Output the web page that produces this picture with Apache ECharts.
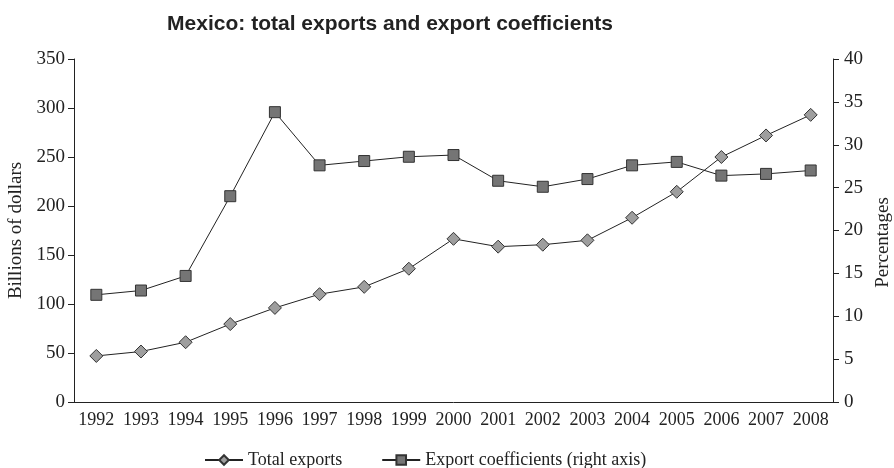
<!DOCTYPE html>
<html>
<head>
<meta charset="utf-8">
<script src="https://cdn.jsdelivr.net/npm/echarts@6/dist/echarts.min.js"></script>
<style>
  html, body { margin: 0; padding: 0; background: #fff; }
  #chart { width: 894px; height: 468px; }
</style>
</head>
<body>
<div id="chart"></div>
<script>
const years = ['1992', '1993', '1994', '1995', '1996', '1997', '1998', '1999', '2000',
  '2001', '2002', '2003', '2004', '2005', '2006', '2007', '2008'];
const totalExports = [47, 51.5, 61, 79.5, 96, 110, 117.5, 136, 166.5,
  158.5, 160.5, 165, 188, 214.5, 250, 272, 293];
const exportCoefficients = [12.5, 13, 14.7, 24, 33.8, 27.6, 28.1, 28.6, 28.8,
  25.8, 25.1, 26, 27.6, 28, 26.4, 26.6, 27];
const leftTicks = { min: 0, max: 350, interval: 50 };
const rightTicks = { min: 0, max: 40, interval: 5 };

const serif = '"Liberation Serif", "DejaVu Serif", serif';
const axisText = { color: '#222', fontFamily: serif, fontSize: 19 };

const chart = echarts.init(document.getElementById('chart'));
chart.setOption({
  animation: false,
  title: {
    text: 'Mexico: total exports and export coefficients',
    left: 385,
    textAlign: 'center',
    top: 9,
    textStyle: { fontFamily: '"Liberation Sans", Arial, sans-serif', fontWeight: 'bold', fontSize: 21, color: '#222' }
  },
  legend: {
    top: 451,
    left: 204,
    itemGap: 39,
    itemWidth: 38,
    itemHeight: 12,
    padding: 0,
    textStyle: { fontFamily: serif, fontSize: 18, color: '#222' },
    data: ['Total exports', 'Export coefficients (right axis)']
  },
  grid: { left: 74, right: 61, top: 59, bottom: 66, containLabel: false, outerBoundsMode: 'none' },
  xAxis: {
    type: 'category',
    data: years,
    boundaryGap: true,
    axisLine: { lineStyle: { color: '#222', width: 1 } },
    axisTick: { show: false },
    axisLabel: { ...axisText, fontSize: 18, margin: 9, interval: 0, hideOverlap: false }
  },
  yAxis: [
    {
      type: 'value',
      ...leftTicks,
      name: 'Billions of dollars',
      nameLocation: 'middle',
      nameGap: 41,
      nameTextStyle: { ...axisText },
      axisLine: { show: true, lineStyle: { color: '#222', width: 1 } },
      axisTick: { show: true, length: 6, lineStyle: { color: '#222' } },
      axisLabel: { ...axisText, margin: 9 },
      splitLine: { show: false }
    },
    {
      type: 'value',
      ...rightTicks,
      position: 'right',
      name: 'Percentages',
      nameLocation: 'middle',
      nameGap: 40,
      nameRotate: 90,
      nameTextStyle: { ...axisText, padding: [0, 24, 0, 0] },
      axisLine: { show: true, lineStyle: { color: '#222', width: 1 } },
      axisTick: { show: true, length: 6, lineStyle: { color: '#222' } },
      axisLabel: { ...axisText, margin: 11 },
      splitLine: { show: false }
    }
  ],
  series: [
    {
      name: 'Total exports',
      type: 'line',
      yAxisIndex: 0,
      data: totalExports,
      symbol: 'diamond',
      symbolSize: 13,
      lineStyle: { color: '#222', width: 1 },
      itemStyle: { color: '#9e9e9e', borderColor: '#333', borderWidth: 1 }
    },
    {
      name: 'Export coefficients (right axis)',
      type: 'line',
      yAxisIndex: 1,
      data: exportCoefficients,
      symbol: 'rect',
      symbolSize: 11,
      lineStyle: { color: '#222', width: 1 },
      itemStyle: { color: '#757575', borderColor: '#333', borderWidth: 1 }
    }
  ]
});
</script>
</body>
</html>
